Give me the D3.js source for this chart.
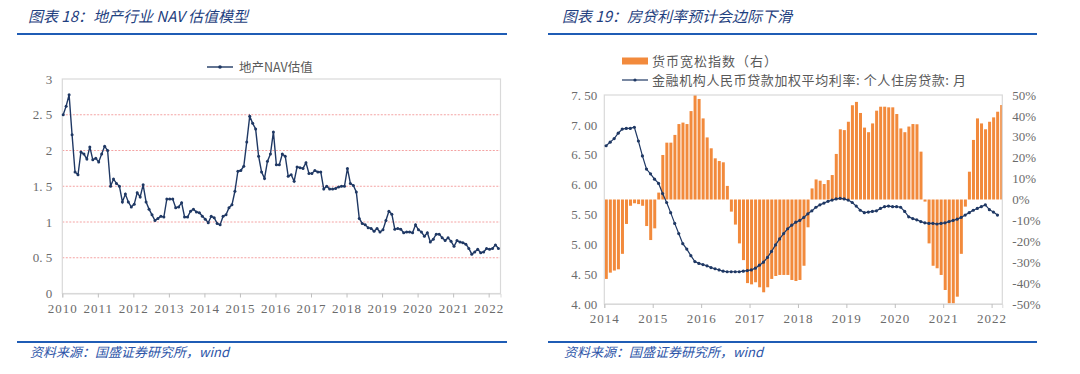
<!DOCTYPE html>
<html><head><meta charset="utf-8">
<script src="https://cdn.jsdelivr.net/npm/d3@7"></script>
<style>
html,body{margin:0;padding:0;background:#fff;}
svg{display:block;}
</style></head>
<body>
<svg id="c" width="1080" height="374"></svg>
<script>
// ---------- Data: left chart (monthly, from Jan 2010) ----------
const navStartYear = 2010;
const navValues = [
 2.50,2.62,2.78,2.22,1.70,1.66,1.98,1.95,1.88,2.05,1.87,1.89,
 1.84,1.95,2.06,2.00,1.50,1.60,1.54,1.50,1.28,1.39,1.28,1.21,
 1.25,1.41,1.35,1.52,1.28,1.18,1.10,1.02,1.05,1.08,1.07,1.32,
 1.32,1.32,1.20,1.21,1.27,1.07,1.07,1.15,1.18,1.14,1.13,1.08,
 1.04,0.99,1.08,1.06,0.98,0.96,1.08,1.10,1.20,1.24,1.43,1.71,
 1.72,1.78,2.12,2.48,2.38,2.30,1.92,1.70,1.61,1.85,1.95,2.26,
 1.80,1.80,1.95,1.92,1.64,1.66,1.57,1.77,1.76,1.75,1.83,1.68,
 1.68,1.72,1.70,1.70,1.46,1.50,1.46,1.46,1.47,1.49,1.50,1.50,
 1.75,1.54,1.51,1.42,1.05,0.98,0.96,0.92,0.91,0.87,0.91,0.86,
 0.89,1.02,1.15,1.11,0.90,0.91,0.90,0.85,0.86,0.86,0.85,0.96,
 0.89,0.86,0.80,0.85,0.72,0.76,0.83,0.83,0.78,0.74,0.78,0.73,
 0.66,0.74,0.72,0.71,0.69,0.63,0.55,0.58,0.62,0.57,0.58,0.63,
 0.62,0.63,0.68,0.63
];
const navYTicks = [0,0.5,1,1.5,2,2.5,3];
const navYLabels = ["0","0. 5","1","1. 5","2","2. 5","3"];
const navXTicks = [2010,2011,2012,2013,2014,2015,2016,2017,2018,2019,2020,2021,2022];
const navLegend = "地产NAV估值";

// ---------- Data: right chart (monthly, from Jan 2014) ----------
const rateStartYear = 2014;
const easingIndex = [ // 货币宽松指数（右）, %
 -38,-35,-34,-33.4,-26,-11.7,-3,-1.8,-2.2,-3,-12.7,-19.4,
 -13.8,3.3,21.3,27.2,27.2,30.9,36.1,36.8,36.1,42.3,50,48.1,
 38.8,29.7,24.5,19.7,18.4,17.8,6.5,-5.8,-12,-21,-29,-40,
 -40.6,-39.6,-42,-44.4,-42,-38,-36.6,-36.1,-36.1,-36.1,-38.5,-39,
 -38.5,-31.7,-13.3,5.3,9.6,9.0,7.4,9.3,11.7,21.8,33.6,33.2,
 37.2,45.1,46.7,41.4,34.4,32.2,36.4,42.5,44.4,44.4,44.1,44.1,
 40.9,34.0,32.2,34.9,36.1,36.0,22.9,-1,-21,-31.7,-32.9,-36.1,
 -43.3,-49.7,-49.7,-46.5,-26,-3.4,13.3,28.5,38.8,36.4,33.6,37.2,
 39.3,42.0,45.2
];
const mortgageRate = [ // 金融机构人民币贷款加权平均利率:个人住房贷款:月
 6.65,6.71,6.77,6.86,6.93,6.94,6.94,6.96,6.73,6.48,6.26,6.18,
 6.09,6.02,5.85,5.70,5.53,5.35,5.18,5.01,4.92,4.81,4.71,4.68,
 4.66,4.64,4.61,4.59,4.57,4.55,4.54,4.54,4.54,4.54,4.55,4.56,
 4.57,4.60,4.65,4.70,4.78,4.88,4.99,5.09,5.18,5.26,5.32,5.37,
 5.40,5.45,5.51,5.56,5.62,5.66,5.69,5.72,5.74,5.76,5.77,5.76,
 5.74,5.70,5.64,5.57,5.53,5.54,5.55,5.56,5.60,5.63,5.64,5.63,
 5.63,5.62,5.55,5.46,5.43,5.41,5.38,5.36,5.35,5.35,5.34,5.35,
 5.36,5.38,5.40,5.42,5.45,5.49,5.53,5.57,5.60,5.63,5.66,5.58,
 5.54,5.49
];
const rateYTicks = [4.0,4.5,5.0,5.5,6.0,6.5,7.0,7.5];
const rateYLabels = ["4. 00","4. 50","5. 00","5. 50","6. 00","6. 50","7. 00","7. 50"];
const idxYTicks = [-50,-40,-30,-20,-10,0,10,20,30,40,50];
const rateXTicks = [2014,2015,2016,2017,2018,2019,2020,2021,2022];
const rateLegend = ["货币宽松指数（右）","金融机构人民币贷款加权平均利率: 个人住房贷款: 月"];

const titles = ["图表 18：地产行业 NAV 估值模型","图表 19：房贷利率预计会边际下滑"];
const sourceText = "资料来源：国盛证券研究所，wind";

// ---------- Styles ----------
const NAVY = "#1f3864", ORANGE = "#f28a3c", TICKC = "#6b6b6b", BORDER = "#d9d9d9";
const TITLEC = "#1f3f80", RULEC = "#1f5cb5", SRC = "#2d55a8";
const numFont = "'Liberation Serif','Times New Roman',serif";
const cjk = "'Noto Sans CJK SC','Noto Sans',sans-serif";

const svg = d3.select("#c");

// Header / footer for both panels
[[17,507,28],[548,1037,562]].forEach(([x0,x1,tx],i)=>{
  svg.append("text").attr("x",tx).attr("y",22).text(titles[i])
    .attr("font-family",cjk).attr("font-size",15).attr("font-style","italic")
    .attr("fill",TITLEC).attr("transform",`translate(0,0)`)
    .attr("style","font-style:italic");
  svg.append("line").attr("x1",x0).attr("x2",x1).attr("y1",34).attr("y2",34)
    .attr("stroke",RULEC).attr("stroke-width",2);
  svg.append("line").attr("x1",x0).attr("x2",x1).attr("y1",342).attr("y2",342)
    .attr("stroke",RULEC).attr("stroke-width",2);
  svg.append("text").attr("x",tx+2).attr("y",357).text(sourceText)
    .attr("font-family",cjk).attr("font-size",13).attr("fill",SRC)
    .attr("style","font-style:italic");
});

// ---------- Left chart ----------
{
  const L = {x0:62.3, x1:500.5, y0:79, y1:293.5};
  const x = d3.scaleLinear().domain([2010, 2022 + 4/12]).range([L.x0, L.x1]);
  const y = d3.scaleLinear().domain([0,3]).range([L.y1, L.y0]);
  const g = svg.append("g");
  // grid
  g.selectAll(".grid").data(navYTicks.filter(v=>v>0 && v<3)).join("line")
    .attr("x1",L.x0).attr("x2",L.x1).attr("y1",d=>y(d)).attr("y2",d=>y(d))
    .attr("stroke","#f4a3a3").attr("stroke-width",1).attr("stroke-dasharray","2,1.5");
  // border
  g.append("rect").attr("x",L.x0).attr("y",L.y0).attr("width",L.x1-L.x0).attr("height",L.y1-L.y0)
    .attr("fill","none").attr("stroke",BORDER).attr("stroke-width",1.2);
  // x axis
  const xa = g.append("g").attr("transform",`translate(0,${L.y1})`)
    .call(d3.axisBottom(x).tickValues(navXTicks).tickFormat(d3.format("d")).tickSize(4).tickPadding(6));
  xa.select(".domain").attr("stroke",BORDER);
  xa.selectAll(".tick line").attr("stroke","#bfbfbf");
  xa.selectAll("text").attr("font-family",numFont).attr("font-size",13).attr("fill",TICKC).attr("letter-spacing","1");
  // y axis
  const ya = g.append("g").attr("transform",`translate(${L.x0},0)`)
    .call(d3.axisLeft(y).tickValues(navYTicks).tickFormat((d,i)=>navYLabels[i]).tickSize(0).tickPadding(10));
  ya.select(".domain").remove();
  ya.selectAll("text").attr("font-family",numFont).attr("font-size",13).attr("fill",TICKC);
  // line
  const pts = navValues.map((v,k)=>[x(navStartYear + (k+0.3)/12), y(v)]);
  g.append("path").datum(pts).attr("d",d3.line()).attr("fill","none")
    .attr("stroke",NAVY).attr("stroke-width",1.4);
  g.selectAll(".m").data(pts).join("circle").attr("cx",d=>d[0]).attr("cy",d=>d[1])
    .attr("r",1.5).attr("fill",NAVY);
  // legend
  g.append("line").attr("x1",207).attr("x2",233).attr("y1",67).attr("y2",67)
    .attr("stroke",NAVY).attr("stroke-width",1.4);
  g.append("circle").attr("cx",220).attr("cy",67).attr("r",1.8).attr("fill",NAVY);
  g.append("text").attr("x",239).attr("y",71.5).text(navLegend)
    .attr("font-family",cjk).attr("font-size",12.5).attr("fill","#595959");
}

// ---------- Right chart ----------
{
  const R = {x0:604.3, x1:1002.3, y0:95, y1:304};
  const x = d3.scaleLinear().domain([2014, 2022 + 2.65/12]).range([R.x0, R.x1]);
  const yL = d3.scaleLinear().domain([4,7.5]).range([R.y1, R.y0]);
  const yR = d3.scaleLinear().domain([-50,50]).range([R.y1, R.y0]);
  const g = svg.append("g");
  const clipId = "rclip";
  svg.append("clipPath").attr("id",clipId).append("rect")
    .attr("x",R.x0).attr("y",R.y0-1).attr("width",R.x1-R.x0).attr("height",R.y1-R.y0+2);
  // bars
  const bw = 3.0;
  g.append("g").attr("clip-path",`url(#${clipId})`)
    .selectAll("rect").data(easingIndex).join("rect")
    .attr("x",(d,k)=>x(rateStartYear + (k+0.5)/12) - bw/2)
    .attr("width",bw)
    .attr("y",d=>Math.min(yR(d),yR(0)))
    .attr("height",d=>Math.abs(yR(d)-yR(0)))
    .attr("fill",ORANGE);
  // border
  g.append("rect").attr("x",R.x0).attr("y",R.y0).attr("width",R.x1-R.x0).attr("height",R.y1-R.y0)
    .attr("fill","none").attr("stroke",BORDER).attr("stroke-width",1.2);
  // x axis
  const xa = g.append("g").attr("transform",`translate(0,${R.y1})`)
    .call(d3.axisBottom(x).tickValues(rateXTicks).tickFormat(d3.format("d")).tickSize(4).tickPadding(6));
  xa.select(".domain").attr("stroke",BORDER);
  xa.selectAll(".tick line").attr("stroke","#bfbfbf");
  xa.selectAll("text").attr("font-family",numFont).attr("font-size",13).attr("fill",TICKC).attr("letter-spacing","1");
  // left y axis
  const ya = g.append("g").attr("transform",`translate(${R.x0},0)`)
    .call(d3.axisLeft(yL).tickValues(rateYTicks).tickFormat((d,i)=>rateYLabels[i]).tickSize(0).tickPadding(7));
  ya.select(".domain").remove();
  ya.selectAll("text").attr("font-family",numFont).attr("font-size",13).attr("fill",TICKC);
  // right y axis
  const yr = g.append("g").attr("transform",`translate(${R.x1},0)`)
    .call(d3.axisRight(yR).tickValues(idxYTicks).tickFormat(d=>d+"%").tickSize(0).tickPadding(10));
  yr.select(".domain").remove();
  yr.selectAll("text").attr("font-family",numFont).attr("font-size",13).attr("fill",TICKC);
  // line
  const pts = mortgageRate.map((v,k)=>[x(rateStartYear + (k+0.45)/12), yL(v)]);
  g.append("path").datum(pts).attr("d",d3.line()).attr("fill","none")
    .attr("stroke",NAVY).attr("stroke-width",1.2);
  g.selectAll(".m").data(pts).join("circle").attr("cx",d=>d[0]).attr("cy",d=>d[1])
    .attr("r",1.6).attr("fill",NAVY);
  // legend
  g.append("rect").attr("x",622).attr("y",57.5).attr("width",26).attr("height",7).attr("fill",ORANGE);
  g.append("text").attr("x",652).attr("y",65.5).text(rateLegend[0])
    .attr("font-family",cjk).attr("font-size",13).attr("fill","#595959").attr("letter-spacing","1");
  g.append("line").attr("x1",622).attr("x2",648).attr("y1",80).attr("y2",80)
    .attr("stroke",NAVY).attr("stroke-width",1.2);
  g.append("circle").attr("cx",635).attr("cy",80).attr("r",1.6).attr("fill",NAVY);
  g.append("text").attr("x",652).attr("y",84.5).text(rateLegend[1])
    .attr("font-family",cjk).attr("font-size",13).attr("fill","#595959").attr("letter-spacing","0.6");
}
</script>
</body></html>
